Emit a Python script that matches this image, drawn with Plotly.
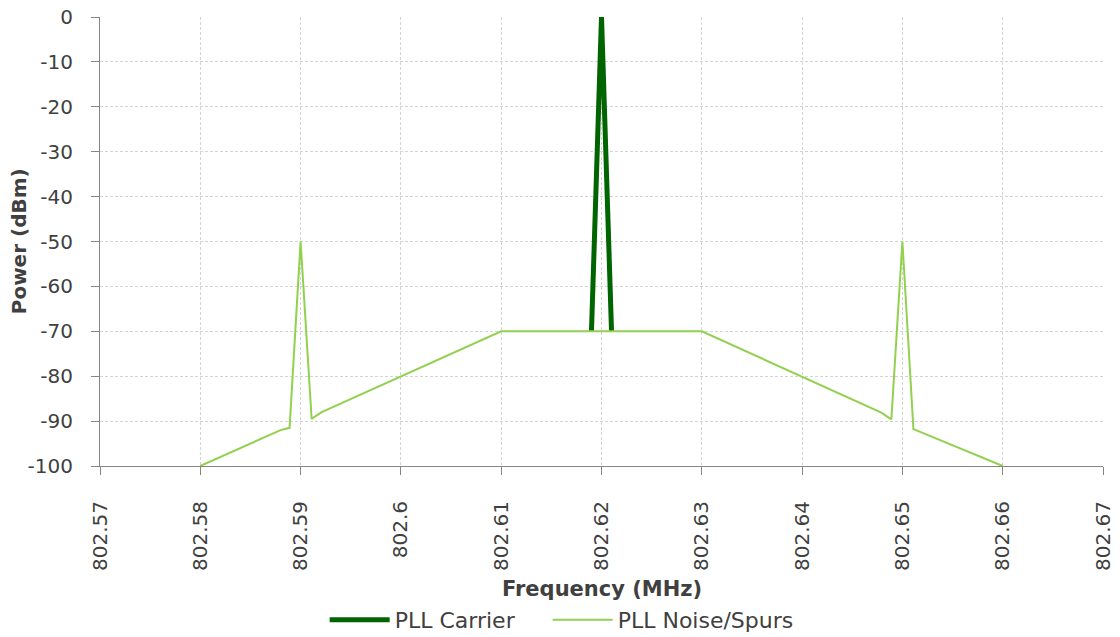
import plotly.graph_objects as go

# Carrier trace (MHz, dBm)
carrier_freq = [802.619, 802.620, 802.621]
carrier_power = [-70, 0, -70]

# Noise / spurs trace (MHz, dBm)
noise_freq = [802.580, 802.588, 802.5889, 802.590, 802.5911, 802.5921,
              802.610, 802.630, 802.6479, 802.6489, 802.650, 802.6511, 802.660]
noise_power = [-100, -92, -91.5, -50, -89.5, -88,
               -70, -70, -88.1, -89.6, -50, -91.8, -100]

x_ticks = [802.57, 802.58, 802.59, 802.60, 802.61, 802.62,
           802.63, 802.64, 802.65, 802.66, 802.67]
x_tick_labels = ["802.57", "802.58", "802.59", "802.6", "802.61", "802.62",
                 "802.63", "802.64", "802.65", "802.66", "802.67"]
y_ticks = [0, -10, -20, -30, -40, -50, -60, -70, -80, -90, -100]
y_tick_labels = ["0", "-10", "-20", "-30", "-40", "-50",
                 "-60", "-70", "-80", "-90", "-100"]

FONT = "DejaVu Sans"
TEXT_COLOR = "#404040"
GAP = "\u00a0" * 4  # extra space between the two legend entries

fig = go.Figure()
fig.add_trace(go.Scatter(
    x=carrier_freq, y=carrier_power, mode="lines", name="PLL Carrier" + GAP,
    line=dict(color="#006400", width=5)
))
fig.add_trace(go.Scatter(
    x=noise_freq, y=noise_power, mode="lines", name="PLL Noise/Spurs",
    line=dict(color="#92D050", width=2)
))

axis_common = dict(
    showline=True, linecolor="#868686", linewidth=1,
    ticks="outside", ticklen=8, tickcolor="#868686",
    showgrid=True, gridcolor="#D4D4D4", griddash="3px,2px", gridwidth=1,
    zeroline=False, automargin=False, ticklabeloverflow="allow",
    tickfont=dict(family=FONT, size=20, color=TEXT_COLOR),
)

# page body has an 8px margin, so the figure is a little smaller than the window
fig.update_layout(
    width=1112, height=629,
    paper_bgcolor="white", plot_bgcolor="white",
    margin=dict(l=92, r=17, t=9, b=171),
    font=dict(family=FONT, color=TEXT_COLOR),
    xaxis=dict(
        range=[802.57, 802.67], tickvals=x_ticks, ticktext=x_tick_labels,
        tickangle=-90, ticklabelstandoff=18,
        **axis_common
    ),
    yaxis=dict(
        range=[-100, 0], tickvals=y_ticks, ticktext=y_tick_labels,
        ticklabelstandoff=14,
        **axis_common
    ),
    legend=dict(
        orientation="h", xref="paper", x=0.224, xanchor="left",
        yref="container", y=0.027, yanchor="middle",
        font=dict(family=FONT, size=22, color=TEXT_COLOR),
        itemwidth=60,
    ),
    showlegend=True,
    annotations=[
        dict(text="<b>Frequency (MHz)</b>", xref="paper", yref="paper",
             x=0.5, y=-0.274, xanchor="center", yanchor="middle",
             showarrow=False, font=dict(family=FONT, size=21, color=TEXT_COLOR)),
        dict(text="<b>Power (dBm)</b>", xref="paper", yref="paper",
             x=-0.081, y=0.5, xanchor="center", yanchor="middle",
             textangle=-90, showarrow=False,
             font=dict(family=FONT, size=20, color=TEXT_COLOR)),
    ],
)

fig.write_html("out.html")
